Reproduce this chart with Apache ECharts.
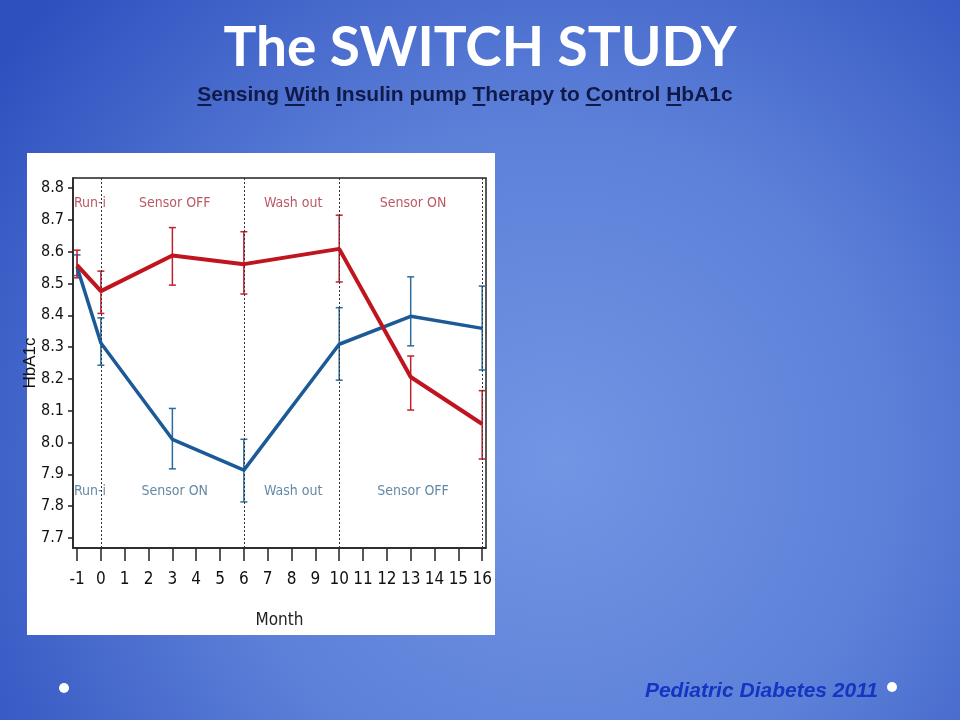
<!DOCTYPE html>
<html>
<head>
<meta charset="utf-8">
<script src="https://cdn.jsdelivr.net/npm/echarts@6/dist/echarts.min.js"></script>
<style>html,body{margin:0;padding:0;}#c{width:960px;height:720px;}</style>
</head>
<body>
<div id="c"></div>
<script>
// ---- data ----
const months = [-1, 0, 3, 6, 10, 13, 16];
const offFirstMean = [8.558, 8.476, 8.588, 8.561, 8.609, 8.206, 8.058];
const offFirstHigh = [8.605, 8.539, 8.676, 8.663, 8.715, 8.272, 8.163];
const offFirstLow  = [8.518, 8.406, 8.495, 8.467, 8.505, 8.102, 7.948];
const onFirstMean  = [8.552, 8.313, 8.010, 7.913, 8.309, 8.397, 8.359];
const onFirstHigh  = [8.590, 8.392, 8.107, 8.010, 8.424, 8.521, 8.492];
const onFirstLow   = [8.525, 8.243, 7.917, 7.813, 8.196, 8.304, 8.228];
const phaseBoundaries = [0, 6, 10, 16];
const xTicks = [-1,0,1,2,3,4,5,6,7,8,9,10,11,12,13,14,15,16];
const yTicks = [7.7,7.8,7.9,8.0,8.1,8.2,8.3,8.4,8.5,8.6,8.7,8.8];
const topPhaseNames = ['Run-in', 'Sensor OFF', 'Wash out', 'Sensor ON'];
const bottomPhaseNames = ['Run-in', 'Sensor ON', 'Wash out', 'Sensor OFF'];
const phaseLabelX = [-1.13, 3.1, 8.07, 13.1];
const topLabelY = 8.753;
const bottomLabelY = 7.847;
const titleText = 'The SWITCH STUDY';
const subtitleText = 'Sensing With Insulin pump Therapy to Control HbA1c';
const underlinedIdx = [0, 8, 13, 26, 37, 45];
const footerText = 'Pediatric Diabetes 2011';

const RED = '#c0141f', BLUE = '#1b5a96';
const RED_ERR = '#c0202e', BLUE_ERR = '#2a6c9e';
const NARROW = "'DejaVu Sans Condensed','Liberation Sans Narrow','Arial Narrow',sans-serif";

function errSeries(name, high, low, color) {
  return {
    type: 'custom', name: name, z: 3,
    data: months.map((m, i) => [m, low[i], high[i]]),
    renderItem: function (params, api) {
      const lo = api.coord([api.value(0), api.value(1)]);
      const hi = api.coord([api.value(0), api.value(2)]);
      const w = 3.5;
      const st = { stroke: color, lineWidth: 1.5 };
      return { type: 'group', children: [
        { type: 'line', shape: { x1: lo[0], y1: lo[1], x2: hi[0], y2: hi[1] }, style: st },
        { type: 'line', shape: { x1: lo[0]-w, y1: lo[1], x2: lo[0]+w, y2: lo[1] }, style: st },
        { type: 'line', shape: { x1: hi[0]-w, y1: hi[1], x2: hi[0]+w, y2: hi[1] }, style: st }
      ]};
    }
  };
}

function phaseSeries(names, y, color) {
  return {
    type: 'scatter', symbolSize: 0, z: 4, silent: true,
    data: names.map((n, i) => {
      const d = { name: n, value: [phaseLabelX[i], y] };
      if (i === 0) d.label = { position: 'right', distance: 0, width: 38, overflow: 'truncate', ellipsis: '' };
      return d;
    }),
    label: { show: true, position: 'inside', formatter: p => p.name, color: color, fontSize: 14, fontFamily: NARROW }
  };
}

// subtitle underline positions via measuring
const subFont = "bold 21px 'Liberation Sans', Arial, sans-serif";
const mctx = document.createElement('canvas').getContext('2d');
mctx.font = subFont;
const subCenterX = 465, subY = 95;
const subW = mctx.measureText(subtitleText).width;
const subLeft = subCenterX - subW / 2;
const underlines = underlinedIdx.map(i => {
  const x0 = subLeft + mctx.measureText(subtitleText.slice(0, i)).width;
  const cw = mctx.measureText(subtitleText[i]).width;
  return { type: 'line', shape: { x1: x0, y1: subY + 10, x2: x0 + cw, y2: subY + 10 }, style: { stroke: '#101a48', lineWidth: 2 } };
});

const chart = echarts.init(document.getElementById('c'));
chart.setOption({
  backgroundColor: { type: 'radial', x: 0.58, y: 0.64, r: 0.95,
    colorStops: [{ offset: 0, color: '#7395e4' }, { offset: 0.5, color: '#5c80d8' }, { offset: 1, color: '#2e50bf' }] },
  animation: false,
  graphic: [
    { type: 'rect', z: -1, shape: { x: 27, y: 153, width: 468, height: 482 }, style: { fill: '#ffffff' } },
    { type: 'text', x: 480, y: 48, style: { text: titleText, fill: '#ffffff', font: "bold 55px Lato, 'Open Sans', sans-serif", textAlign: 'center', textVerticalAlign: 'middle' } },
    { type: 'text', x: subCenterX, y: subY, style: { text: subtitleText, fill: '#101a48', font: subFont, textAlign: 'center', textVerticalAlign: 'middle' } },
    ...underlines,
    { type: 'text', x: 878, y: 691, style: { text: footerText, fill: '#1434c2', font: "italic bold 21px 'Liberation Sans', Arial, sans-serif", textAlign: 'right', textVerticalAlign: 'middle' } },
    { type: 'circle', shape: { cx: 64, cy: 688, r: 5 }, style: { fill: '#ffffff' } },
    { type: 'circle', shape: { cx: 892, cy: 687, r: 5 }, style: { fill: '#ffffff' } }
  ],
  grid: { left: 73, top: 178, right: 474, bottom: 172, show: true, borderColor: '#222', borderWidth: 1.5, backgroundColor: 'transparent' },
  xAxis: {
    type: 'value', min: -1.17, max: 16.16,
    name: 'Month', nameLocation: 'middle', nameGap: 64,
    nameTextStyle: { color: '#222', fontSize: 17, fontFamily: NARROW },
    axisLine: { show: true, onZero: false, lineStyle: { color: '#222', width: 1.5 } },
    axisTick: { show: true, length: 13, customValues: xTicks, lineStyle: { color: '#222', width: 1.5 } },
    axisLabel: { customValues: xTicks, margin: 23, color: '#111', fontSize: 17, fontFamily: NARROW },
    splitLine: { show: false }
  },
  yAxis: {
    type: 'value', min: 7.668, max: 8.832,
    name: 'HbA1c', nameLocation: 'middle', nameGap: 34, nameRotate: 90, nameMoveOverlap: false,
    nameTextStyle: { color: '#111', fontSize: 17, fontFamily: "'Liberation Sans', Arial, sans-serif" },
    axisLine: { show: true, onZero: false, lineStyle: { color: '#222', width: 1.5 } },
    axisTick: { show: true, length: 5, customValues: yTicks, lineStyle: { color: '#222', width: 1.5 } },
    axisLabel: { customValues: yTicks, margin: 9, color: '#111', fontSize: 16, fontFamily: NARROW, formatter: v => v.toFixed(1) },
    splitLine: { show: false }
  },
  series: [
    {
      type: 'line', name: 'phases', data: [], z: 1,
      markLine: { silent: true, symbol: 'none', label: { show: false },
        lineStyle: { color: '#333', type: [2, 2], width: 1 },
        data: phaseBoundaries.map(b => ({ xAxis: b })) }
    },
    errSeries('blue err', onFirstHigh, onFirstLow, BLUE_ERR),
    errSeries('red err', offFirstHigh, offFirstLow, RED_ERR),
    { type: 'line', name: 'Sensor ON first', z: 5, data: months.map((m, i) => [m, onFirstMean[i]]), symbol: 'none', lineStyle: { color: BLUE, width: 3.5 } },
    { type: 'line', name: 'Sensor OFF first', z: 6, data: months.map((m, i) => [m, offFirstMean[i]]), symbol: 'none', lineStyle: { color: RED, width: 4 } },
    phaseSeries(topPhaseNames, topLabelY, '#a8303f'),
    phaseSeries(bottomPhaseNames, bottomLabelY, '#3d6a8c')
  ]
});
</script>
</body>
</html>
